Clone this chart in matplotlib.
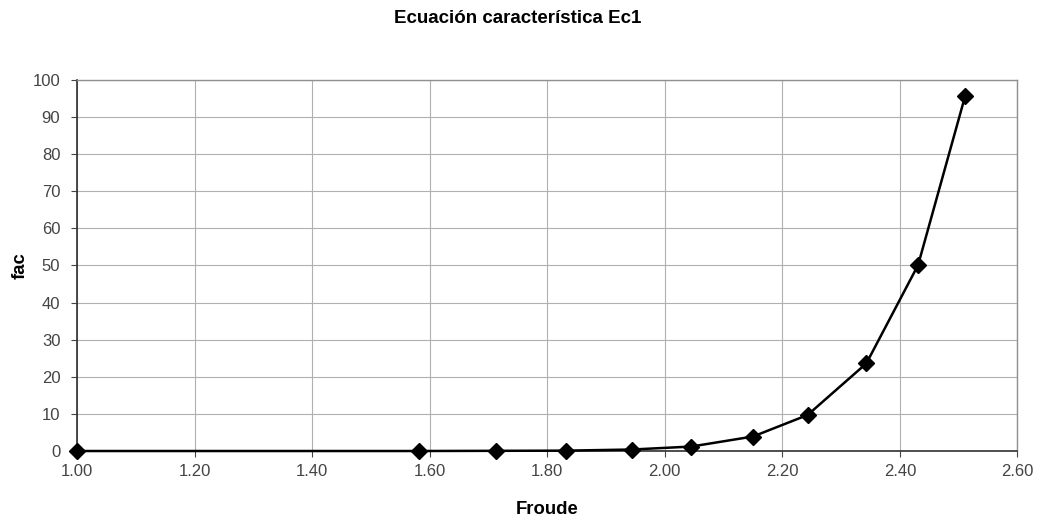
import matplotlib.pyplot as plt

froude = [1.00, 1.582, 1.713, 1.832, 1.944, 2.045, 2.15, 2.243, 2.343, 2.431, 2.511]
fac = [0.0, 0.0, 0.05, 0.1, 0.4, 1.2, 3.9, 9.7, 23.6, 50.1, 95.6]
xticks = [1.00, 1.20, 1.40, 1.60, 1.80, 2.00, 2.20, 2.40, 2.60]
yticks = list(range(0, 101, 10))

plt.rcParams['font.family'] = ['Liberation Sans', 'DejaVu Sans']

fig = plt.figure(figsize=(10.42, 5.22), dpi=100)
ax = fig.add_axes([0.0739, 0.136, 0.9025, 0.711])

ax.plot(froude, fac, color='black', lw=1.8, marker='D', markersize=8,
        markerfacecolor='black', markeredgecolor='black', clip_on=False, zorder=3)

ax.set_xlim(1.0, 2.6)
ax.set_ylim(0, 100)
ax.set_xticks(xticks)
ax.set_xticklabels([f"{t:.2f}" for t in xticks])
ax.set_yticks(yticks)
ax.grid(True, color='#b0b0b0', lw=0.8)
ax.set_axisbelow(True)

for s in ['top', 'right']:
    ax.spines[s].set_color('#909090')
    ax.spines[s].set_linewidth(1.0)
for s in ['left', 'bottom']:
    ax.spines[s].set_color('#303030')
    ax.spines[s].set_linewidth(1.2)

ax.tick_params(axis='both', labelsize=12, colors='#444444', length=4, width=0.8)
ax.tick_params(axis='x', pad=5)
ax.tick_params(axis='y', pad=8)

ax.set_xlabel('Froude', fontsize=13.3, fontweight='bold', labelpad=16)
ax.set_ylabel('fac', fontsize=13.3, fontweight='bold', labelpad=3)
fig.text(0.497, 0.965, 'Ecuación característica Ec1', ha='center', va='center',
         fontsize=13.5, fontweight='bold')

fig.savefig('out.png', dpi=100)
